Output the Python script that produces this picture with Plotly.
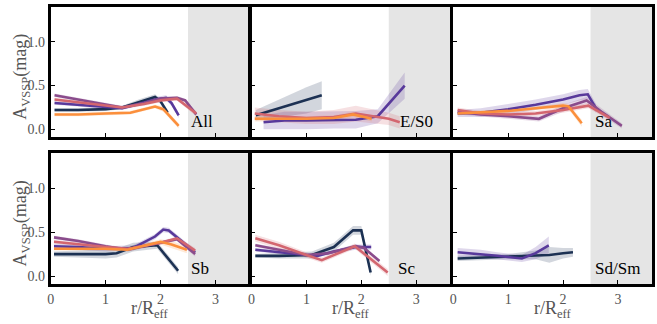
import plotly.graph_objects as go

# ---------------- data ----------------
panel_names = ["All", "E/S0", "Sa", "Sb", "Sc", "Sd/Sm"]
series_colors = {
    "navy": "#1c3153",
    "indigo": "#58399b",
    "mauve": "#8a4c8c",
    "pink": "#d3666f",
    "orange": "#fb8f3c",
}
series_order = ["navy", "indigo", "mauve", "pink", "orange"]

# All
all_navy_x = [0.07, 0.5, 1.0, 1.3, 1.6, 1.9, 2.0, 2.13]
all_navy_y = [0.22, 0.22, 0.23, 0.25, 0.31, 0.37, 0.32, 0.19]
all_navy_e = [0.02, 0.02, 0.02, 0.02, 0.03, 0.03, 0.03, 0.03]
all_indigo_x = [0.07, 0.5, 1.0, 1.3, 1.6, 1.9, 2.1, 2.2, 2.33]
all_indigo_y = [0.30, 0.28, 0.25, 0.24, 0.29, 0.34, 0.36, 0.30, 0.16]
all_indigo_e = [0.02, 0.02, 0.02, 0.02, 0.02, 0.03, 0.03, 0.03, 0.03]
all_mauve_x = [0.07, 0.5, 1.0, 1.3, 1.7, 2.0, 2.3, 2.45, 2.65]
all_mauve_y = [0.39, 0.34, 0.28, 0.25, 0.30, 0.35, 0.36, 0.33, 0.17]
all_mauve_e = [0.02, 0.02, 0.02, 0.02, 0.02, 0.02, 0.02, 0.02, 0.03]
all_pink_x = [0.07, 0.5, 1.0, 1.3, 1.7, 2.0, 2.3, 2.65]
all_pink_y = [0.34, 0.31, 0.27, 0.25, 0.29, 0.33, 0.35, 0.18]
all_pink_e = [0.02, 0.02, 0.02, 0.02, 0.02, 0.02, 0.02, 0.03]
all_orange_x = [0.07, 0.5, 1.0, 1.45, 1.9, 2.05, 2.33]
all_orange_y = [0.17, 0.17, 0.18, 0.19, 0.26, 0.23, 0.04]
all_orange_e = [0.02, 0.02, 0.02, 0.02, 0.02, 0.03, 0.03]

# E/S0
es0_navy_x = [0.08, 0.5, 1.0, 1.28]
es0_navy_y = [0.16, 0.24, 0.33, 0.39]
es0_navy_e = [0.06, 0.10, 0.15, 0.16]
es0_indigo_x = [0.22, 0.6, 1.0, 1.5, 1.9, 2.3, 2.79]
es0_indigo_y = [0.08, 0.10, 0.10, 0.11, 0.11, 0.15, 0.50]
es0_indigo_e = [0.08, 0.10, 0.10, 0.10, 0.10, 0.08, 0.15]
es0_pink_x = [0.06, 0.5, 1.0, 1.5, 1.9, 2.2, 2.5, 2.7]
es0_pink_y = [0.18, 0.15, 0.13, 0.14, 0.18, 0.15, 0.12, 0.08]
es0_pink_e = [0.07, 0.07, 0.07, 0.08, 0.09, 0.08, 0.07, 0.07]
es0_orange_x = [0.06, 0.5, 1.0, 1.5, 1.85, 2.19]
es0_orange_y = [0.12, 0.12, 0.12, 0.13, 0.17, 0.12]
es0_orange_e = [0.03, 0.03, 0.03, 0.03, 0.03, 0.03]

# Sa
sa_indigo_x = [0.08, 0.5, 1.0, 1.5, 2.0, 2.3, 2.45, 2.6]
sa_indigo_y = [0.18, 0.19, 0.23, 0.28, 0.34, 0.39, 0.40, 0.24]
sa_indigo_e = [0.04, 0.05, 0.06, 0.06, 0.06, 0.06, 0.06, 0.05]
sa_mauve_x = [0.08, 0.5, 1.0, 1.56, 2.0, 2.43, 2.7, 3.07]
sa_mauve_y = [0.20, 0.17, 0.15, 0.12, 0.24, 0.33, 0.20, 0.04]
sa_mauve_e = [0.03, 0.03, 0.03, 0.03, 0.04, 0.04, 0.04, 0.03]
sa_pink_x = [0.08, 0.5, 1.0, 1.5, 2.0, 2.46, 2.85]
sa_pink_y = [0.22, 0.18, 0.17, 0.18, 0.22, 0.27, 0.13]
sa_pink_e = [0.03, 0.03, 0.03, 0.03, 0.03, 0.03, 0.03]
sa_orange_x = [0.08, 0.5, 1.0, 1.5, 2.0, 2.1, 2.34]
sa_orange_y = [0.18, 0.19, 0.21, 0.24, 0.27, 0.26, 0.07]
sa_orange_e = [0.02, 0.02, 0.02, 0.02, 0.03, 0.03, 0.04]

# Sb
sb_navy_x = [0.06, 0.5, 1.0, 1.2, 1.5, 1.94, 2.32]
sb_navy_y = [0.25, 0.25, 0.25, 0.26, 0.33, 0.35, 0.06]
sb_navy_e = [0.03, 0.04, 0.05, 0.05, 0.05, 0.04, 0.04]
sb_indigo_x = [0.06, 0.5, 1.0, 1.5, 1.9, 2.05, 2.15, 2.3, 2.63]
sb_indigo_y = [0.34, 0.33, 0.31, 0.32, 0.45, 0.53, 0.52, 0.44, 0.27]
sb_indigo_e = [0.03, 0.03, 0.03, 0.03, 0.03, 0.03, 0.03, 0.03, 0.03]
sb_mauve_x = [0.06, 0.5, 1.0, 1.4, 2.0, 2.3, 2.63]
sb_mauve_y = [0.44, 0.40, 0.34, 0.30, 0.38, 0.42, 0.25]
sb_mauve_e = [0.02, 0.02, 0.02, 0.02, 0.02, 0.02, 0.03]
sb_pink_x = [0.06, 0.5, 1.0, 1.4, 2.0, 2.3, 2.63]
sb_pink_y = [0.39, 0.36, 0.33, 0.31, 0.38, 0.43, 0.29]
sb_pink_e = [0.02, 0.02, 0.02, 0.02, 0.02, 0.02, 0.03]
sb_orange_x = [0.06, 0.5, 1.0, 1.4, 1.8, 2.0, 2.2, 2.48]
sb_orange_y = [0.31, 0.31, 0.31, 0.30, 0.36, 0.39, 0.36, 0.30]
sb_orange_e = [0.02, 0.02, 0.02, 0.02, 0.03, 0.03, 0.04, 0.04]

# Sc
sc_navy_x = [0.07, 0.5, 1.1, 1.5, 1.85, 2.0, 2.17]
sc_navy_y = [0.23, 0.23, 0.24, 0.33, 0.52, 0.52, 0.04]
sc_navy_e = [0.02, 0.03, 0.04, 0.05, 0.05, 0.05, 0.04]
sc_indigo_x = [0.07, 0.5, 1.0, 1.2, 1.5, 1.9, 2.18]
sc_indigo_y = [0.30, 0.27, 0.24, 0.23, 0.28, 0.33, 0.33]
sc_indigo_e = [0.02, 0.02, 0.02, 0.02, 0.02, 0.03, 0.03]
sc_mauve_x = [0.07, 0.5, 1.0, 1.4, 1.9, 2.05, 2.33]
sc_mauve_y = [0.35, 0.30, 0.24, 0.26, 0.34, 0.32, 0.17]
sc_mauve_e = [0.02, 0.02, 0.02, 0.02, 0.02, 0.02, 0.02]
sc_pink_x = [0.07, 0.5, 1.0, 1.28, 1.88, 2.48]
sc_pink_y = [0.43, 0.35, 0.24, 0.18, 0.34, 0.04]
sc_pink_e = [0.04, 0.04, 0.03, 0.03, 0.03, 0.04]

# Sd/Sm
sd_navy_x = [0.08, 0.5, 1.0, 1.5, 1.75, 2.0, 2.18]
sd_navy_y = [0.20, 0.21, 0.22, 0.24, 0.24, 0.26, 0.27]
sd_navy_e = [0.03, 0.03, 0.03, 0.05, 0.09, 0.06, 0.05]
sd_indigo_x = [0.08, 0.5, 0.8, 1.25, 1.5, 1.74]
sd_indigo_y = [0.27, 0.25, 0.23, 0.20, 0.26, 0.35]
sd_indigo_e = [0.05, 0.05, 0.04, 0.04, 0.07, 0.10]

panels = [
    {"navy": (all_navy_x, all_navy_y, all_navy_e), "indigo": (all_indigo_x, all_indigo_y, all_indigo_e),
     "mauve": (all_mauve_x, all_mauve_y, all_mauve_e), "pink": (all_pink_x, all_pink_y, all_pink_e),
     "orange": (all_orange_x, all_orange_y, all_orange_e)},
    {"navy": (es0_navy_x, es0_navy_y, es0_navy_e), "indigo": (es0_indigo_x, es0_indigo_y, es0_indigo_e),
     "pink": (es0_pink_x, es0_pink_y, es0_pink_e), "orange": (es0_orange_x, es0_orange_y, es0_orange_e)},
    {"indigo": (sa_indigo_x, sa_indigo_y, sa_indigo_e), "mauve": (sa_mauve_x, sa_mauve_y, sa_mauve_e),
     "pink": (sa_pink_x, sa_pink_y, sa_pink_e), "orange": (sa_orange_x, sa_orange_y, sa_orange_e)},
    {"navy": (sb_navy_x, sb_navy_y, sb_navy_e), "indigo": (sb_indigo_x, sb_indigo_y, sb_indigo_e),
     "mauve": (sb_mauve_x, sb_mauve_y, sb_mauve_e), "pink": (sb_pink_x, sb_pink_y, sb_pink_e),
     "orange": (sb_orange_x, sb_orange_y, sb_orange_e)},
    {"navy": (sc_navy_x, sc_navy_y, sc_navy_e), "indigo": (sc_indigo_x, sc_indigo_y, sc_indigo_e),
     "mauve": (sc_mauve_x, sc_mauve_y, sc_mauve_e), "pink": (sc_pink_x, sc_pink_y, sc_pink_e)},
    {"navy": (sd_navy_x, sd_navy_y, sd_navy_e), "indigo": (sd_indigo_x, sd_indigo_y, sd_indigo_e)},
]

label_pos = [(2.52, -0.04), (2.66, -0.04), (2.55, -0.04), (2.51, -0.04), (2.64, -0.04), (2.55, -0.04)]

x_ticks = [0, 1, 2, 3]
y_ticks = [0.0, 0.5, 1.0]
y_tick_text = ["0.0", "0.5", "1.0"]
x_range = [0, 3.62]
y_range = [-0.09, 1.4]
shade_start = 2.5

# ---------------- figure ----------------
W, H = 657, 324
FONT = "Liberation Serif"
col_px = [(47, 247), (249, 449), (452, 652)]
row_px = [(6.7, 137.2), (153.2, 283.9)]


def rgba(hexc, a):
    hexc = hexc.lstrip("#")
    r, g, b = int(hexc[0:2], 16), int(hexc[2:4], 16), int(hexc[4:6], 16)
    return f"rgba({r},{g},{b},{a})"


fig = go.Figure()
layout = dict(
    width=W, height=H, margin=dict(l=0, r=0, t=0, b=0),
    paper_bgcolor="white", plot_bgcolor="white", showlegend=False,
    font=dict(family=FONT, color="#444"),
)
shapes = []
annotations = []

for i, data in enumerate(panels):
    r, c = divmod(i, 3)
    n = i + 1
    xa = "x" if n == 1 else f"x{n}"
    ya = "y" if n == 1 else f"y{n}"
    xkey = "xaxis" if n == 1 else f"xaxis{n}"
    ykey = "yaxis" if n == 1 else f"yaxis{n}"
    x0p, x1p = col_px[c]
    t0p, t1p = row_px[r]
    layout[xkey] = dict(
        domain=[x0p / W, x1p / W], range=x_range, anchor=ya,
        showgrid=False, zeroline=False, showline=True, mirror=True,
        linecolor="black", linewidth=3, ticks="inside", ticklen=4, tickwidth=1,
        tickcolor="black", tickvals=x_ticks, showticklabels=(r == 1),
        tickfont=dict(family=FONT, size=14, color="#555"),
    )
    layout[ykey] = dict(
        domain=[1 - t1p / H, 1 - t0p / H], range=y_range, anchor=xa,
        showgrid=False, zeroline=False, showline=True, mirror=True,
        linecolor="black", linewidth=3, ticks="inside", ticklen=4, tickwidth=1,
        tickcolor="black", tickvals=y_ticks, ticktext=y_tick_text,
        showticklabels=(c == 0),
        tickfont=dict(family=FONT, size=14, color="#555"),
    )
    shapes.append(dict(type="rect", xref=xa, yref=f"{ya} domain",
                       x0=shade_start, x1=x_range[1], y0=0, y1=1,
                       fillcolor="#e5e5e5", line=dict(width=0), layer="below"))
    # bands
    for key in series_order:
        if key not in data:
            continue
        xs, ys, es = data[key]
        up = [y + e for y, e in zip(ys, es)]
        lo = [y - e for y, e in zip(ys, es)]
        fig.add_trace(go.Scatter(
            x=list(xs) + list(xs)[::-1], y=up + lo[::-1], fill="toself",
            fillcolor=rgba(series_colors[key], 0.2), line=dict(width=0),
            mode="lines", hoverinfo="skip", xaxis=xa, yaxis=ya))
    # lines
    for key in series_order:
        if key not in data:
            continue
        xs, ys, es = data[key]
        fig.add_trace(go.Scatter(
            x=xs, y=ys, mode="lines",
            line=dict(color=series_colors[key], width=2.6),
            xaxis=xa, yaxis=ya))
    lx, ly = label_pos[i]
    annotations.append(dict(text=panel_names[i], x=lx, y=ly, xref=xa, yref=ya,
                            xanchor="left", yanchor="bottom", showarrow=False,
                            font=dict(family=FONT, size=17, color="black")))

# axis titles
for r in range(2):
    t0p, t1p = row_px[r]
    annotations.append(dict(text="A<sub>VSSP</sub>(mag)", x=18 / W, y=1 - ((t0p + t1p) / 2 + 5) / H,
                            xref="paper", yref="paper", textangle=-90, showarrow=False,
                            xanchor="center", yanchor="middle",
                            font=dict(family=FONT, size=18, color="#555")))
for c in range(3):
    x0p, x1p = col_px[c]
    annotations.append(dict(text="r/R<sub>eff</sub>", x=(x0p + x1p) / 2 / W, y=1 - 309 / H,
                            xref="paper", yref="paper", showarrow=False,
                            xanchor="center", yanchor="middle",
                            font=dict(family=FONT, size=18, color="#555")))

layout["shapes"] = shapes
layout["annotations"] = annotations
fig.update_layout(**layout)
fig.write_html(
    "out.html",
    config={"displayModeBar": False},
    post_script="document.body.style.margin='0';document.body.style.padding='0';",
)
